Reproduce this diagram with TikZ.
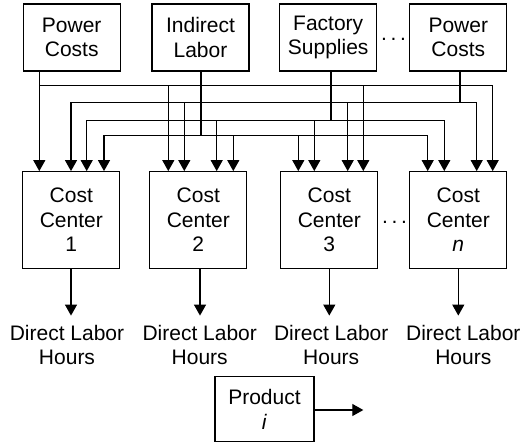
\documentclass[tikz,border=0pt]{standalone}
\usepackage{fontspec}
\setmainfont{Liberation Sans}
\usetikzlibrary{arrows.meta}
\begin{document}
\begin{tikzpicture}[x=1pt,y=1pt,
  line/.style={line width=1.2pt},
  arr/.style={line, -{Triangle[length=11pt,width=12pt]}},
  arr2/.style={line, {Triangle[length=11pt,width=12pt]}-{Triangle[length=11pt,width=12pt]}},
  txt/.style={font=\fontsize{21}{24.5}\selectfont, align=center, inner sep=0pt},
  srcbox/.style={txt, draw, line width=1.2pt, minimum width=97pt, minimum height=67pt},
  ccbox/.style={txt, draw, line width=1.2pt, minimum width=97pt, minimum height=96.6pt},
  dots/.style={font=\fontsize{21}{24.5}\selectfont, inner sep=0pt, anchor=base}
]
\useasboundingbox (0,0) rectangle (525,-442);

% source boxes
\node[srcbox] (s1) at (71.7,-37.4) {Power\\Costs};
\node[srcbox] (s2) at (200.5,-37.4) {Indirect\\Labor};
\node[srcbox] (s3) at (328.2,-37.4) {Factory\\Supplies};
\node[srcbox] (s4) at (458.3,-37.4) {Power\\Costs};
\node[dots] (d1) at (393.5,-40) {.\kern3.6pt.\kern3.6pt.};

% cost centers
\node[ccbox] (c1) at (71.3,-220) {Cost\\Center\\1};
\node[ccbox] (c2) at (198.3,-220) {Cost\\Center\\2};
\node[ccbox] (c3) at (329.3,-220) {Cost\\Center\\3};
\node[ccbox] (c4) at (458.3,-220) {Cost\\Center\\\textit{n}};
\node[dots] (d2) at (394.5,-223.5) {.\kern3.6pt.\kern3.6pt.};

% direct labor hours
\node[txt] (h1) at (67,-345) {Direct Labor\\Hours};
\node[txt] (h2) at (199.7,-345) {Direct Labor\\Hours};
\node[txt] (h3) at (331.2,-345) {Direct Labor\\Hours};
\node[txt] (h4) at (463.3,-345) {Direct Labor\\Hours};

% product
\node[srcbox, minimum width=99pt, minimum height=65pt] (p) at (264.5,-409.2) {Product\\\textit{i}};
\coordinate (pe) at (363.3,-410);
\draw[arr] (p.east |- pe) -- (pe);

% outputs of cost centers
\draw[arr] (c1.south -| 71,0) -- ++(0,-46.7);
\draw[arr] (c2.south -| 200,0) -- ++(0,-46.7);
\draw[arr] (c3.south -| 329.3,0) -- ++(0,-46.7);
\draw[arr] (c4.south -| 458.3,0) -- ++(0,-46.7);

% source 1 : level 1
\draw[arr] (s1.south -| 39.3,0) -- (c1.north -| 39.3,0);
\draw[arr] (39.3,-85.7) -- (492.7,-85.7) -- (c4.north -| 492.7,0);
\foreach \x/\c in {168.3/c2, 363.3/c3}
  \draw[arr] (\x,-85.7) -- (\c.north -| \x,0);

% source 4 : level 2
\draw[line] (s4.south -| 460,0) -- (460,-102.3);
\draw[arr2] (c1.north -| 71,0) -- (71,-102.3) -- (476.7,-102.3) -- (c4.north -| 476.7,0);
\foreach \x/\c in {184.3/c2, 347.7/c3}
  \draw[arr] (\x,-102.3) -- (\c.north -| \x,0);

% source 3 : level 3
\draw[line] (s3.south -| 331,0) -- (331,-120.7);
\draw[arr2] (c1.north -| 86.7,0) -- (86.7,-120.7) -- (444.3,-120.7) -- (c4.north -| 444.3,0);
\foreach \x/\c in {216.7/c2, 314.3/c3}
  \draw[arr] (\x,-120.7) -- (\c.north -| \x,0);

% source 2 : level 4
\draw[line] (s2.south -| 201,0) -- (201,-135.7);
\draw[arr2] (c1.north -| 104,0) -- (104,-135.7) -- (427.7,-135.7) -- (c4.north -| 427.7,0);
\foreach \x/\c in {233.3/c2, 298.3/c3}
  \draw[arr] (\x,-135.7) -- (\c.north -| \x,0);
\end{tikzpicture}
\end{document}
